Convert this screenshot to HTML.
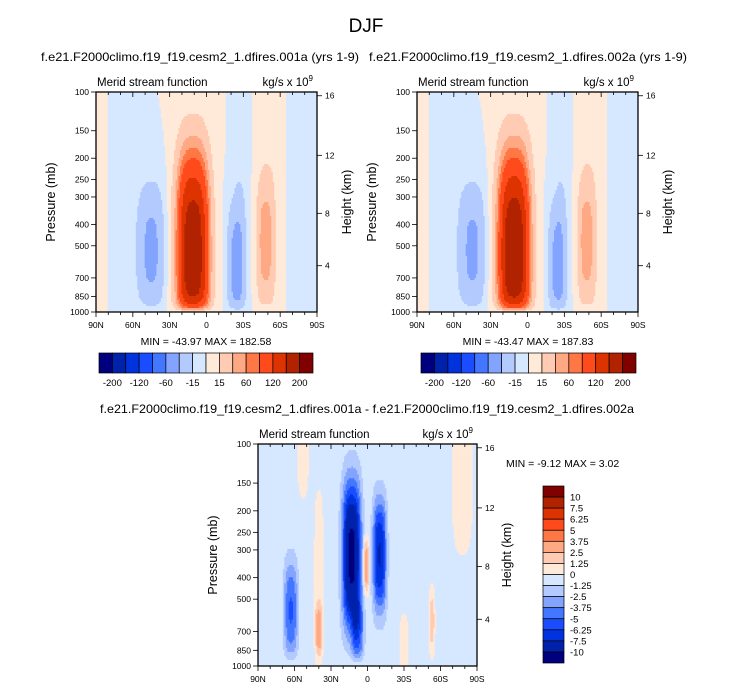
<!DOCTYPE html>
<html><head><meta charset="utf-8">
<style>
body{margin:0;background:#fff;}
svg{display:block;font-family:"Liberation Sans",sans-serif;}
</style></head>
<body>
<svg id="c" width="732" height="690" viewBox="0 0 732 690" xmlns="http://www.w3.org/2000/svg">
<rect width="732" height="690" fill="#fff"/>
<text x="366" y="32" font-size="19" text-anchor="middle">DJF</text>
<text x="200" y="61" font-size="12" text-anchor="middle" textLength="318" lengthAdjust="spacingAndGlyphs">f.e21.F2000climo.f19_f19.cesm2_1.dfires.001a (yrs 1-9)</text>
<text x="528" y="61" font-size="12" text-anchor="middle" textLength="318" lengthAdjust="spacingAndGlyphs">f.e21.F2000climo.f19_f19.cesm2_1.dfires.002a (yrs 1-9)</text>
<text x="367" y="413" font-size="12" text-anchor="middle" textLength="534" lengthAdjust="spacingAndGlyphs">f.e21.F2000climo.f19_f19.cesm2_1.dfires.001a - f.e21.F2000climo.f19_f19.cesm2_1.dfires.002a</text>
<g id="g"></g>
</svg>
<script>
// ---- data ----
const latTicks = [90, 60, 30, 0, -30, -60, -90];
const latTickLabels = ["90N","60N","30N","0","30S","60S","90S"];
const presTicks = [100,150,200,250,300,400,500,700,850,1000];
const heightTicks = [16,12,8,4];
const heightTickPres = [104,194,356,616];
const levelsTop = [-200,-160,-120,-80,-60,-40,-15,0,15,40,60,80,120,160,200];
const levelsTopLabels = ["-200","","-120","","-60","","-15","","15","","60","","120","","200"];
const levelsDiff = [-10,-7.5,-6.25,-5,-3.75,-2.5,-1.25,0,1.25,2.5,3.75,5,6.25,7.5,10];
const levelsDiffLabels = ["-10","-7.5","-6.25","-5","-3.75","-2.5","-1.25","0","1.25","2.5","3.75","5","6.25","7.5","10"];
const colors = ["#00007f","#0022aa","#0033dd","#1a4dff","#4477ff","#82a4ff","#b3caff","#d6e8ff","#ffe9d8","#ffcbb2","#ffa984","#ff7744","#ff4b1c","#dd3300","#b02200","#800000"];
// blob parameters: lat centre, log10(p) centre, amplitude, lat width, log-p width
const c1Lat = [11, 45, -24, -48, 87, 65, -28, -50, -82];
const c1Z   = [2.74, 2.72, 2.8, 2.68, 2.5, 2.5, 2.5, 2.5, 2.5];
const c1Amp = [190, -46, -46, 42, 10, -12, -10, 10, -10];
const c1WL  = [13, 10, 7, 7, 4, 10, 6, 9, 10];
const c1WZ  = [0.46, 0.3, 0.3, 0.27, 3, 1.5, 1.5, 1.5, 1.5];
const c2Amp = [195, -45, -45, 42, 10, -12, -10, 10, -10];
const dLat = [0, 13, 8, -10, 1, 63, 40, 40, 53, -30, -78, -53];
const dZ   = [2.5, 2.5, 2.85, 2.5, 2.55, 2.75, 2.85, 2.55, 2.0, 2.9, 2.1, 2.8];
const dAmp = [-0.6, -10, -4, -7, 4.5, -4.5, 3.5, 1.5, 1.5, 1.3, 1.6, 2.5];
const dWL  = [1000, 7.5, 5, 5.5, 2.2, 5.5, 3, 4, 5, 4, 9, 2.5];
const dWZ  = [100, 0.33, 0.15, 0.25, 0.12, 0.22, 0.12, 0.35, 0.25, 0.15, 0.4, 0.15];

const Q=1.4;
const NS="http://www.w3.org/2000/svg";
const G=document.getElementById('g');
function mk(tag,attrs,parent,text){const e=document.createElementNS(NS,tag);for(const k in attrs)e.setAttribute(k,attrs[k]);if(text!==undefined)e.textContent=text;(parent||G).appendChild(e);return e;}

function field(lat,z,L,Z,A,WL,WZ){
  let v=0;
  for(let i=0;i<L.length;i++){
    const a=(lat-L[i])/WL[i], b=(z-Z[i])/WZ[i];
    v+=A[i]*Math.exp(-Math.pow(a*a,Q)-Math.pow(b*b,Q));
  }
  return v*(1-Math.exp(-(3-z)/0.03));
}
function idx(v,levels){let k=0;while(k<levels.length&&v>=levels[k])k++;return k;}

function panel(name,x0,y0,w,h,L,Z,A,WL,WZ,levels){
  const g=mk('g',{},G);
  
  
  const xs=lat=>x0+(90-lat)/180*w;
  const ys=p=>y0+(Math.log10(p)-2)*h;
  const nx=150, ny=110, dx=w/nx, dy=h/ny;
  for(let j=0;j<ny;j++){
    const z=2+(j+0.5)/ny;
    let start=0, cur=-1;
    for(let i=0;i<=nx;i++){
      let k=-2;
      if(i<nx){const lat=90-(i+0.5)/nx*180;k=idx(field(lat,z,L,Z,A,WL,WZ),levels);}
      if(k!==cur){
        if(cur>=0){
          const r=mk('rect',{x:(x0+start*dx).toFixed(2),y:(y0+j*dy).toFixed(2),width:((i-start)*dx+0.4).toFixed(2),height:(dy+0.4).toFixed(2),fill:colors[cur]},g);
          
          
        }
        start=i;cur=k;
      }
    }
  }
  mk('rect',{x:x0,y:y0,width:w,height:h,fill:'none',stroke:'#000','stroke-width':1.3},g);
  for(let lat=90;lat>=-90;lat-=10){
    const x=xs(lat);
    mk('line',{x1:x,y1:y0+h,x2:x,y2:y0+h+(lat%30===0?5:3),stroke:'#000','stroke-width':0.8},g);
    mk('line',{x1:x,y1:y0,x2:x,y2:y0+(lat%30===0?5:3),stroke:'#000','stroke-width':0.8},g);
  }
  latTicks.forEach((lat,i)=>{
    const t=mk('text',{x:xs(lat),y:y0+h+16,'font-size':8.5,'text-anchor':'middle'},g,latTickLabels[i]);
    
    
  });
  presTicks.forEach(p=>{
    const y=ys(p);
    mk('line',{x1:x0-5,y1:y,x2:x0,y2:y,stroke:'#000','stroke-width':0.8},g);
    const t=mk('text',{x:x0-7,y:y+3,'font-size':8.5,'text-anchor':'end'},g,String(p));
    
    
  });
  heightTicks.forEach((hk,i)=>{
    const y=ys(heightTickPres[i]);
    mk('line',{x1:x0+w,y1:y,x2:x0+w+5,y2:y,stroke:'#000','stroke-width':0.8},g);
    const t=mk('text',{x:x0+w+8,y:y+3,'font-size':8.5},g,String(hk));
    
    
  });
  let t=mk('text',{x:x0+1,y:y0-6,'font-size':11.5},g,'Merid stream function');
  
  t=mk('text',{x:x0+w-4,y:y0-6,'font-size':11.5,'text-anchor':'end'},g);
  t.innerHTML='kg/s x 10<tspan dy="-5" font-size="8">9</tspan>';
  
  const cy=y0+h/2;
  t=mk('text',{x:x0-41,y:cy,'font-size':12.5,'text-anchor':'middle',transform:`rotate(-90 ${x0-41} ${cy})`},g,'Pressure (mb)');
  
  t=mk('text',{x:x0+w+34,y:cy,'font-size':12.5,'text-anchor':'middle',transform:`rotate(-90 ${x0+w+34} ${cy})`},g,'Height (km)');
  
}

function hbar(name,x0,y0,w,h){
  const g=mk('g',{},G);
  
  const bw=w/colors.length;
  colors.forEach((c,i)=>{
    const r=mk('rect',{x:x0+i*bw,y:y0,width:bw,height:h,fill:c,stroke:'#000','stroke-width':0.7},g);
    
  });
  levelsTopLabels.forEach((l,i)=>{
    if(!l)return;
    const t=mk('text',{x:x0+(i+1)*bw,y:y0+h+13,'font-size':9.5,'text-anchor':'middle'},g,l);
    
  });
}
function vbar(name,x0,y0,w,h){
  const g=mk('g',{},G);
  
  const bh=h/colors.length;
  colors.slice().reverse().forEach((c,i)=>{
    const r=mk('rect',{x:x0,y:y0+i*bh,width:w,height:bh,fill:c,stroke:'#000','stroke-width':0.7},g);
    
  });
  levelsDiffLabels.slice().reverse().forEach((l,i)=>{
    const t=mk('text',{x:x0+w+6,y:y0+(i+1)*bh+3.5,'font-size':9.5},g,l);
    
  });
}

panel('panel-001a',96,92,221,220,c1Lat,c1Z,c1Amp,c1WL,c1WZ,levelsTop);
panel('panel-002a',417,92,221,220,c1Lat,c1Z,c2Amp,c1WL,c1WZ,levelsTop);
panel('panel-diff',258,444,219,222,dLat,dZ,dAmp,dWL,dWZ,levelsDiff);
hbar('colorbar-001a',99,353,214,20);
hbar('colorbar-002a',421,353,215,20);
vbar('colorbar-diff',543,486,21,177);
let t=mk('text',{x:206,y:345,'font-size':10.5,'text-anchor':'middle'},G,'MIN = -43.97  MAX = 182.58');

t=mk('text',{x:528,y:345,'font-size':10.5,'text-anchor':'middle'},G,'MIN = -43.47  MAX = 187.83');

t=mk('text',{x:506,y:467,'font-size':10.5},G,'MIN = -9.12  MAX =  3.02');

</script>
</body></html>
